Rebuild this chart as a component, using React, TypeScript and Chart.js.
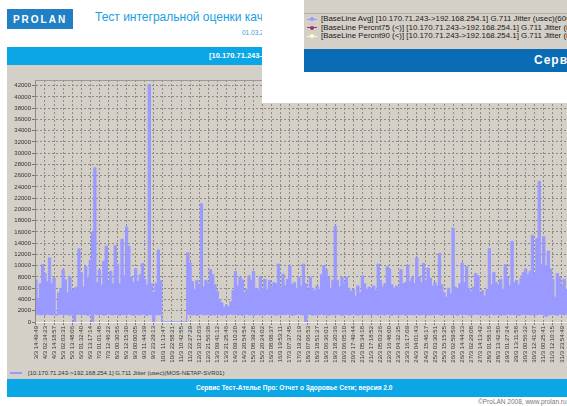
import React, { useEffect, useRef } from 'react';
import { Chart, registerables } from 'chart.js';

Chart.register(...registerables);

// Category tick labels (every 11:44:34)
const X_LABELS = [
  '3/3 14:49:49', '4/3 02:34:23', '4/3 14:18:57', '5/3 02:03:31', '5/3 13:48:06',
  '6/3 01:32:40', '6/3 13:17:14', '7/3 01:01:48', '7/3 12:46:22', '8/3 00:30:56',
  '8/3 12:15:30', '9/3 00:00:05', '9/3 11:44:39', '9/3 23:29:13', '10/3 11:13:47',
  '10/3 22:58:21', '11/3 10:42:55', '11/3 22:27:29', '12/3 10:12:03', '12/3 21:56:38',
  '13/3 09:41:12', '13/3 21:25:46', '14/3 09:10:20', '14/3 20:54:54', '15/3 08:39:28',
  '15/3 20:24:02', '16/3 08:08:37', '16/3 19:53:11', '17/3 07:37:45', '17/3 19:22:19',
  '18/3 07:06:53', '18/3 18:51:27', '19/3 06:36:01', '19/3 18:20:36', '20/3 06:05:10',
  '20/3 17:49:44', '21/3 05:34:18', '21/3 17:18:52', '22/3 05:03:26', '22/3 16:48:00',
  '23/3 04:32:35', '23/3 16:17:09', '24/3 04:01:43', '24/3 15:46:17', '25/3 03:30:51',
  '25/3 15:15:25', '26/3 02:59:59', '26/3 14:44:33', '27/3 02:29:08', '27/3 14:13:42',
  '28/3 01:58:16', '28/3 13:42:50', '29/3 01:27:24', '29/3 13:11:58', '30/3 00:56:32',
  '30/3 12:41:07', '31/3 00:25:41', '31/3 12:10:15', '31/3 23:54:49',
];

// Y axis tick values
const Y_TICKS = [
  0, 2000, 4000, 6000, 8000, 10000, 12000, 14000, 16000, 18000, 20000,
  22000, 24000, 26000, 28000, 30000, 32000, 34000, 36000, 38000, 40000, 42000,
];

// Samples per label interval
const POINTS_PER_LABEL = 4;

// Upper envelope of the jitter trace (usec)
const JITTER_HIGH = [
  7500, 4200, 6800, 10200,
  8600, 7200, 11400, 6800,
  7800, 1400, 5200, 6000,
  9300, 7500, 5200, 8000,
  5600, 6000, 6200, 13000,
  8800, 6200, 9900, 7800,
  11000, 15900, 27400, 7000,
  9300, 6500, 10800, 13500,
  7200, 9000, 6800, 13600,
  10300, 6800, 14700, 8200,
  16900, 13500, 8000, 7000,
  9500, 7200, 8400, 10400,
  7600, 6500, 42200, 6800,
  5200, 6900, 12800, 7400,
  0, 0, 0, 0,
  0, 0, 0, 0,
  0, 0, 0, 12300,
  10500, 7200, 5800, 7400,
  6500, 21000, 6200, 7400,
  6800, 9300, 8400, 6600,
  5400, 4000, 3400, 2600,
  3000, 2700, 3600, 5600,
  9000, 6400, 8000, 7500,
  5200, 5800, 8200, 7400,
  9000, 6000, 5700, 8000,
  6000, 7600, 5800, 7400,
  6200, 7000, 6800, 10300,
  6200, 8500, 6400, 7600,
  10000, 6600, 7000, 6000,
  7900, 6400, 10300, 6800,
  5800, 8000, 6000, 5600,
  6400, 5800, 8400, 10000,
  9300, 8000, 6000, 7400,
  17000, 7400, 6200, 8000,
  6800, 8000, 6000, 5400,
  5800, 4600, 6400, 5200,
  8200, 6800, 5800, 6200,
  6000, 6400, 5600, 10300,
  7400, 6200, 6800, 9800,
  9400, 6600, 6000, 6400,
  6200, 9300, 6800, 7000,
  10100, 7200, 7900, 6800,
  11400, 8000, 7000, 10400,
  7400, 9600, 7800, 6400,
  7000, 6400, 12200, 6600,
  5200, 4400, 6000, 5000,
  16700, 6200, 5800, 6800,
  10500, 7000, 9900, 6000,
  5400, 6200, 8600, 8200,
  5000, 5600, 4600, 5800,
  13100, 6600, 8800, 7000,
  6600, 7600, 5800, 10200,
  8000, 6400, 14300, 7000,
  7400, 6600, 7800, 8800,
  9400, 8400, 9000, 15400,
  8600, 14800, 25000, 10200,
  15200, 10000, 12600, 9400,
  7600, 4400, 8600, 8000,
  6400, 7600, 5800, 6600,
];

// Lower envelope of the jitter trace (usec)
const JITTER_LOW = [
  1300, 1400, 1250, 1350,
  1200, 1400, 1300, 1250,
  1350, 1200, 1300, 1400,
  1250, 1300, 1350, 1200,
  1300, 0, 1300, 1400,
  1250, 1350, 1300, 1200,
  1300, 0, 1400, 1300,
  1250, 1350, 1200, 1300,
  1400, 1300, 1250, 1350,
  1300, 1200, 1350, 1300,
  1250, 1400, 1300, 1200,
  1350, 1300, 1250, 1400,
  1300, 1200, 1350, 1300,
  0, 1300, 1250, 1350,
  0, 0, 0, 0,
  0, 0, 0, 0,
  0, 0, 0, 1400,
  1300, 1250, 1350, 1200,
  1300, 1400, 1250, 1300,
  1350, 1200, 1300, 1250,
  1300, 1350, 1200, 1300,
  1250, 1300, 1400, 1300,
  1350, 1250, 1300, 1200,
  1300, 1400, 1250, 1350,
  1200, 1300, 1350, 1250,
  1300, 1250, 1400, 1300,
  1350, 1300, 1200, 1300,
  1250, 1350, 1300, 1400,
  1300, 1200, 1250, 1350,
  1400, 1300, 1250, 0,
  1300, 1350, 1200, 1300,
  1250, 1300, 1400, 1250,
  1350, 1200, 1300, 1300,
  1250, 1400, 1300, 1200,
  1300, 1350, 1250, 1300,
  1400, 1300, 1200, 1350,
  1250, 1300, 1350, 1300,
  1200, 1400, 1300, 1250,
  1350, 1300, 1250, 1400,
  1300, 1200, 1350, 1300,
  1250, 1300, 1400, 1200,
  1300, 1350, 1300, 1250,
  1400, 1250, 1300, 1350,
  1200, 1300, 1250, 1300,
  1350, 1400, 1300, 1200,
  1300, 1250, 1350, 1300,
  1250, 1300, 1200, 1400,
  1300, 1350, 1300, 1250,
  1200, 1300, 1400, 1300,
  1350, 1250, 1300, 1200,
  1300, 1400, 1250, 1350,
  1300, 1200, 1300, 1250,
  1400, 1300, 1350, 1300,
  1250, 1200, 1300, 1400,
  1300, 1350, 1250, 1300,
  1200, 1300, 1400, 1350,
  1300, 1000, 1250, 1300,
  1350, 1300, 1200, 1400,
  1300, 1250, 1350, 1300,
];

const Y_MIN = 0;
const Y_MAX = 43000;

const SERIES_LABEL = '[10.170.71.243->192.168.254.1] G.711 Jitter (usec)(MOS-NETAP-SVR01)';
const SERIES_COLOR = '#9999ff';

const BASELINE_LEGEND = [
  { label: '[BaseLine Avg] [10.170.71.243->192.168.254.1] G.711 Jitter (usec)(600)', color: '#9999ff' },
  { label: '[BaseLine Percnt75 (<)] [10.170.71.243->192.168.254.1] G.711 Jitter (usec)', color: '#993366' },
  { label: '[BaseLine Percnt90 (<)] [10.170.71.243->192.168.254.1] G.711 Jitter (usec)', color: '#ffffcc' },
];

const PAGE_TITLE = 'Тест интегральной оценки качества сети';
const PAGE_DATE = '01.03.2008';
const BAND_TITLE = '[10.170.71.243->192.168.254.1] G.711 Jitter (usec)';
const FOOTER = 'Сервис Тест-Ателье Про: Отчет о Здоровье Сети; версия 2.0';
const COPYRIGHT = '©ProLAN 2008, www.prolan.ru';

const FONT = 'Arial, "Liberation Sans", sans-serif';
const GRAY = '#d4d0c8';

const topBorder = {
  id: 'topBorder',
  afterDraw(chart: any) {
    const { ctx, chartArea } = chart;
    ctx.save();
    ctx.strokeStyle = '#9d9a94';
    ctx.lineWidth = 1;
    ctx.beginPath();
    ctx.moveTo(chartArea.left, Math.round(chartArea.top) + 0.5);
    ctx.lineTo(chartArea.right, Math.round(chartArea.top) + 0.5);
    ctx.stroke();
    ctx.restore();
  },
};

export default function App() {
  const ref = useRef<HTMLCanvasElement>(null);

  useEffect(() => {
    const toXY = (arr: number[]) => arr.map((v, i) => ({ x: i / POINTS_PER_LABEL, y: v }));
    const chart = new Chart(ref.current as HTMLCanvasElement, {
      type: 'line',
      data: {
        datasets: [
          {
            label: SERIES_LABEL,
            data: toXY(JITTER_HIGH),
            borderColor: SERIES_COLOR,
            backgroundColor: SERIES_COLOR,
            borderWidth: 1,
            pointRadius: 0,
            stepped: 'middle',
            fill: '+1',
          },
          {
            label: 'low',
            data: toXY(JITTER_LOW),
            borderColor: SERIES_COLOR,
            backgroundColor: SERIES_COLOR,
            borderWidth: 1,
            pointRadius: 0,
            stepped: 'middle',
            fill: false,
          },
        ],
      },
      options: {
        responsive: false,
        animation: false,
        devicePixelRatio: 1,
        layout: { padding: { top: 15, left: 0, right: 0, bottom: 0 } },
        plugins: { legend: { display: false }, tooltip: { enabled: false } },
        scales: {
          x: {
            type: 'linear',
            min: -0.1,
            max: 62.2,
            afterBuildTicks: (s: any) => {
              s.ticks = X_LABELS.map((_, i) => ({ value: i }));
            },
            afterFit: (s: any) => {
              s.height = 44;
            },
            ticks: {
              autoSkip: false,
              minRotation: 90,
              maxRotation: 90,
              padding: 1,
              color: '#333',
              font: { family: FONT, size: 6 },
              callback: (v: any) => X_LABELS[Math.round(Number(v))] ?? '',
            },
            grid: { color: '#8e8b86', tickLength: 3, tickColor: '#777' },
            border: { color: '#f4f4f4', dash: [2, 2] },
          },
          y: {
            min: Y_MIN,
            max: Y_MAX,
            afterBuildTicks: (s: any) => {
              s.ticks = Y_TICKS.map((v) => ({ value: v }));
            },
            afterFit: (s: any) => {
              s.width = 28;
            },
            ticks: {
              autoSkip: false,
              padding: 1,
              color: '#333',
              font: { family: FONT, size: 6 },
              callback: (v: any) => String(v),
            },
            grid: { color: '#8e8b86', tickLength: 3, tickColor: '#777' },
            border: { color: '#8a8a8a', dash: [2, 2] },
          },
        },
      },
      plugins: [topBorder],
    } as any);
    return () => chart.destroy();
  }, []);

  const abs = (s: React.CSSProperties): React.CSSProperties => ({ position: 'absolute', ...s });

  return (
    <div style={abs({ left: 0, top: 0, width: 567, height: 406, overflow: 'hidden', background: '#fff', fontFamily: FONT })}>
      {/* logo */}
      <div style={abs({ left: 7, top: 9, width: 66, height: 20, background: '#2180c3', color: '#fff', fontWeight: 'bold', fontSize: 10, letterSpacing: 2, display: 'flex', alignItems: 'center', justifyContent: 'center' })}>PROLAN</div>
      {/* title */}
      <div style={abs({ left: 95, top: 10, fontSize: 12, color: '#1a9ee0', whiteSpace: 'nowrap' })}>{PAGE_TITLE}</div>
      <div style={abs({ left: 242, top: 29, fontSize: 6.5, color: '#3d9be0', whiteSpace: 'nowrap' })}>{PAGE_DATE}</div>
      {/* top band */}
      <div style={abs({ left: 7, top: 47, width: 560, height: 18, background: '#0aa6e6', overflow: 'hidden' })}>
        <div style={abs({ left: 202, top: 0, lineHeight: '18px', fontSize: 7.5, fontWeight: 'bold', color: '#fff', whiteSpace: 'nowrap' })}>{BAND_TITLE}</div>
      </div>
      {/* chart region */}
      <div style={abs({ left: 7, top: 65, width: 560, height: 314, background: GRAY, overflow: 'hidden' })}>
        <canvas ref={ref} width={593} height={301} style={abs({ left: 0, top: 0, width: 593, height: 301 })} />
        <div style={abs({ left: 3, top: 307, width: 12, height: 1.5, background: SERIES_COLOR })} />
        <div style={abs({ left: 21, top: 302, lineHeight: '12px', fontSize: 6, color: '#333', whiteSpace: 'nowrap' })}>{SERIES_LABEL}</div>
      </div>
      {/* footer band */}
      <div style={abs({ left: 7, top: 379, width: 560, height: 18, background: '#0aa6e6', overflow: 'hidden' })}>
        <div style={abs({ left: 189, top: 0, lineHeight: '18px', fontSize: 6.5, fontWeight: 'bold', color: '#fff', whiteSpace: 'nowrap' })}>{FOOTER}</div>
      </div>
      <div style={abs({ left: 478, top: 397, fontSize: 6.5, lineHeight: '9px', color: '#777', whiteSpace: 'nowrap' })}>{COPYRIGHT}</div>
      {/* overlapping window */}
      <div style={abs({ left: 262, top: 0, width: 305, height: 103, background: '#fff', overflow: 'hidden' })}>
        <div style={abs({ left: 42, top: 0, width: 263, height: 13, background: GRAY })} />
        <div style={abs({ left: 42, top: 13, width: 263, height: 1, background: '#b2afa8' })} />
        <div style={abs({ left: 42, top: 14, width: 263, height: 35, background: GRAY })}>
          {BASELINE_LEGEND.map((item, i) => (
            <div key={i} style={abs({ left: 0, top: 1 + i * 8.6, height: 8.6, width: 263 })}>
              <div style={abs({ left: 3, top: 3.8, width: 10, height: 1, background: item.color })} />
              <div style={abs({ left: 6, top: 2.3, width: 4, height: 4, borderRadius: 2, background: item.color })} />
              <div style={abs({ left: 17, top: 0, lineHeight: '8.6px', fontSize: 7.9, color: '#1a1a1a', whiteSpace: 'nowrap' })}>{item.label}</div>
            </div>
          ))}
        </div>
        <div style={abs({ left: 42, top: 49, width: 263, height: 23, background: '#0a6cb4', overflow: 'hidden' })}>
          <div style={abs({ left: 230, top: 0, lineHeight: '23px', fontSize: 12, letterSpacing: 1, fontWeight: 'bold', color: '#fff', whiteSpace: 'nowrap' })}>{FOOTER}</div>
        </div>
      </div>
    </div>
  );
}
